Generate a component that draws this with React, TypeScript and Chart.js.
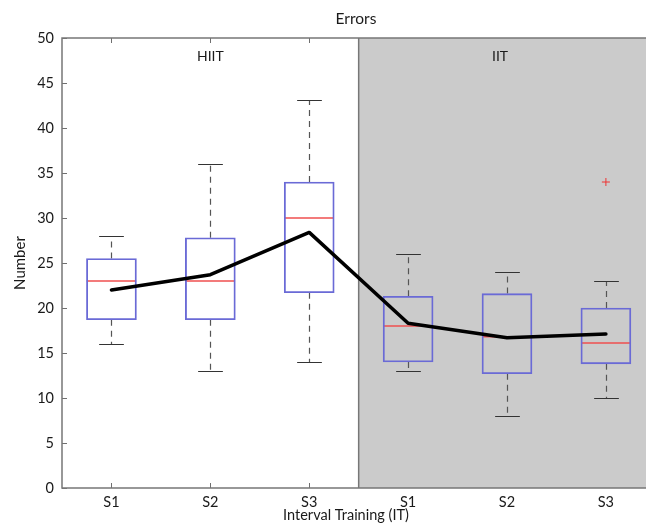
import React, { useEffect, useRef } from "react";
import { Chart, registerables } from "chart.js";

Chart.register(...registerables);

// ---- data ----
const categories = ["S1", "S2", "S3", "S1", "S2", "S3"];
const positions = [1, 2, 3, 4, 5, 6];
const groupLabels = ["HIIT", "IIT"];
const groupLabelX = [2, 4.93];
const groupLabelY = 48;
const groupDivider = 3.5;
const whiskerLow = [16, 13, 14, 13, 8, 10];
const q1 = [18.7, 18.7, 21.7, 14, 12.7, 13.8];
const medians = [23, 23, 30, 18, 16.8, 16.1];
const q3 = [25.5, 27.8, 34, 21.3, 21.6, 20];
const whiskerHigh = [28, 36, 43.1, 26, 24, 23];
const means = [22, 23.7, 28.4, 18.3, 16.7, 17.1];
const outlierPos = [6];
const outlierVal = [34];
const yTicks = [0, 5, 10, 15, 20, 25, 30, 35, 40, 45, 50];
const title = "Errors";
const yTitle = "Number";
const xTitle = "Interval Training (IT)";

const FONT = "Lato, 'Open Sans', sans-serif";
const W = 646;
const H = 523;

const decorPlugin = {
  id: "decor",
  beforeDatasetsDraw(chart: any) {
    const { ctx, chartArea: a, scales } = chart;
    const x = scales.x;
    const y = scales.y;
    const right = chart.width;
    ctx.save();
    // inward tick marks
    ctx.strokeStyle = "#6f6f6f";
    ctx.lineWidth = 1;
    ctx.beginPath();
    positions.forEach((p) => {
      const px = Math.round(x.getPixelForValue(p)) + 0.5;
      ctx.moveTo(px, a.bottom);
      ctx.lineTo(px, a.bottom - 5);
      ctx.moveTo(px, a.top);
      ctx.lineTo(px, a.top + 5);
    });
    yTicks.forEach((t) => {
      const py = Math.round(y.getPixelForValue(t)) + 0.5;
      ctx.moveTo(a.left, py);
      ctx.lineTo(a.left + 5, py);
    });
    ctx.stroke();
    // gray region
    const dx = x.getPixelForValue(groupDivider);
    ctx.fillStyle = "#cbcbcb";
    ctx.fillRect(dx, a.top, right - dx, a.bottom - a.top);
    // frame + divider
    ctx.strokeStyle = "#777777";
    ctx.lineWidth = 1.5;
    ctx.beginPath();
    ctx.moveTo(right, a.top);
    ctx.lineTo(a.left, a.top);
    ctx.lineTo(a.left, a.bottom);
    ctx.lineTo(right, a.bottom);
    ctx.moveTo(dx, a.top);
    ctx.lineTo(dx, a.bottom);
    ctx.stroke();
    // group labels
    ctx.fillStyle = "#1a1a1a";
    ctx.font = `14px ${FONT}`;
    ctx.textAlign = "center";
    ctx.textBaseline = "middle";
    groupLabels.forEach((g, i) => {
      ctx.fillText(g, x.getPixelForValue(groupLabelX[i]), y.getPixelForValue(groupLabelY));
    });
    // whiskers
    const unit = x.getPixelForValue(2) - x.getPixelForValue(1);
    positions.forEach((p, i) => {
      const px = Math.round(x.getPixelForValue(p)) + 0.5;
      ctx.strokeStyle = "#555";
      ctx.lineWidth = 1.2;
      ctx.setLineDash([6, 5]);
      ctx.beginPath();
      ctx.moveTo(px, y.getPixelForValue(q3[i]));
      ctx.lineTo(px, y.getPixelForValue(whiskerHigh[i]));
      ctx.moveTo(px, y.getPixelForValue(q1[i]));
      ctx.lineTo(px, y.getPixelForValue(whiskerLow[i]));
      ctx.stroke();
      ctx.setLineDash([]);
      ctx.strokeStyle = "#333";
      const cw = unit * 0.125;
      ctx.beginPath();
      const hy = Math.round(y.getPixelForValue(whiskerHigh[i])) + 0.5;
      const ly = Math.round(y.getPixelForValue(whiskerLow[i])) + 0.5;
      ctx.moveTo(px - cw, hy);
      ctx.lineTo(px + cw, hy);
      ctx.moveTo(px - cw, ly);
      ctx.lineTo(px + cw, ly);
      ctx.stroke();
    });
    // medians
    ctx.strokeStyle = "#f05050";
    ctx.lineWidth = 1.5;
    ctx.beginPath();
    positions.forEach((p, i) => {
      const px = x.getPixelForValue(p);
      const bw = unit * 0.25;
      const my = y.getPixelForValue(medians[i]);
      ctx.moveTo(px - bw, my);
      ctx.lineTo(px + bw, my);
    });
    ctx.stroke();
    ctx.restore();
  },
  afterDraw(chart: any) {
    const { ctx, chartArea: a } = chart;
    ctx.save();
    ctx.fillStyle = "#1a1a1a";
    ctx.font = `15.5px ${FONT}`;
    ctx.textAlign = "center";
    ctx.textBaseline = "middle";
    ctx.fillText(title, 356, 19);
    ctx.font = `14.5px ${FONT}`;
    ctx.textBaseline = "top";
    ctx.fillText(xTitle, 346, a.bottom + 20);
    ctx.translate(20, 263);
    ctx.rotate(-Math.PI / 2);
    ctx.textBaseline = "middle";
    ctx.font = `15px ${FONT}`;
    ctx.fillText(yTitle, 0, 0);
    ctx.restore();
  },
};

export default function App() {
  const ref = useRef<HTMLCanvasElement | null>(null);
  useEffect(() => {
    if (!ref.current) return;
    const chart = new Chart(ref.current, {
      type: "bar",
      data: {
        datasets: [
          {
            type: "line",
            data: positions.map((p, i) => ({ x: p, y: means[i] })),
            borderColor: "#000",
            borderWidth: 3.5,
            pointRadius: 0,
            tension: 0,
            borderJoinStyle: "round",
            borderCapStyle: "round",
          } as any,
          {
            type: "scatter",
            data: outlierPos.map((p, i) => ({ x: p, y: outlierVal[i] })),
            pointStyle: "cross",
            pointRadius: 4,
            borderColor: "#ee3333",
            borderWidth: 1,
          } as any,
          {
            type: "bar",
            data: positions.map((p, i) => ({ x: p, y: [q1[i], q3[i]] })),
            backgroundColor: "rgba(0,0,0,0)",
            borderColor: "#6a6ad6",
            borderWidth: 1.2,
            borderSkipped: false,
            barThickness: 50,
          } as any,
        ],
      },
      options: {
        animation: false,
        responsive: false,
        devicePixelRatio: 1,
        layout: { padding: { top: 38, left: 0, right: 0, bottom: 0 } },
        plugins: { legend: { display: false }, tooltip: { enabled: false }, title: { display: false } },
        scales: {
          x: {
            type: "linear",
            offset: false,
            min: 0.5,
            max: 6.355,
            afterBuildTicks: (s: any) => {
              s.ticks = positions.map((v) => ({ value: v }));
            },
            ticks: {
              autoSkip: false,
              maxRotation: 0,
              padding: 6,
              color: "#1a1a1a",
              font: { family: FONT, size: 14.5 },
              callback: (_v: any, i: number) => categories[i],
            },
            grid: { display: false, drawTicks: false, offset: false },
            border: { display: false },
            afterFit: (s: any) => {
              s.height = 35;
              s.paddingLeft = 0;
              s.paddingRight = 0;
            },
          },
          y: {
            min: 0,
            max: 50,
            afterBuildTicks: (s: any) => {
              s.ticks = yTicks.map((v) => ({ value: v }));
            },
            ticks: {
              padding: 8,
              color: "#1a1a1a",
              font: { family: FONT, size: 14.5 },
            },
            grid: { display: false, drawTicks: false },
            border: { display: false },
            afterFit: (s: any) => {
              s.width = 62;
            },
          },
        },
      } as any,
      plugins: [decorPlugin],
    });
    return () => chart.destroy();
  }, []);
  return (
    <div
      style={{
        position: "absolute",
        left: 0,
        top: 0,
        width: W,
        height: H,
        overflow: "hidden",
        background: "#fff",
      }}
    >
      <canvas ref={ref} width={W} height={H} style={{ display: "block", width: W, height: H }} />
    </div>
  );
}
